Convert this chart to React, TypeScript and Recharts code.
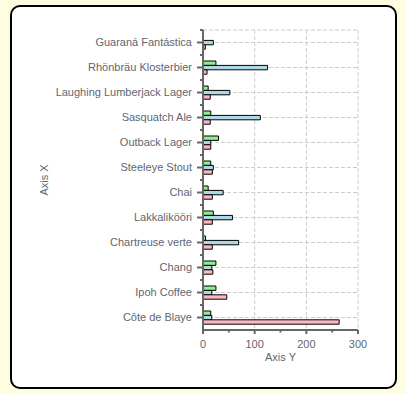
import React from "react";
import {
  BarChart,
  Bar,
  XAxis,
  YAxis,
  CartesianGrid,
  Label,
} from "recharts";

const PRODUCTS = [
  "Guaraná Fantástica",
  "Rhönbräu Klosterbier",
  "Laughing Lumberjack Lager",
  "Sasquatch Ale",
  "Outback Lager",
  "Steeleye Stout",
  "Chai",
  "Lakkalikööri",
  "Chartreuse verte",
  "Chang",
  "Ipoh Coffee",
  "Côte de Blaye",
];
const REORDER_LEVEL = [0, 25, 10, 15, 30, 15, 10, 20, 5, 25, 25, 15];
const UNITS_IN_STOCK = [20, 125, 52, 111, 15, 20, 39, 57, 69, 17, 17, 17];
const UNIT_PRICE = [4.5, 7.75, 14, 14, 15, 18, 18, 18, 18, 19, 46, 263.5];

const X_MAX = 300;
const X_TICKS = [0, 50, 100, 150, 200, 250, 300];
const X_MAJOR = [0, 100, 200, 300];

const data = PRODUCTS.map((name, i) => ({
  name,
  reorder: REORDER_LEVEL[i],
  stock: UNITS_IN_STOCK[i],
  price: UNIT_PRICE[i],
}));

const TEXT = "#5f6670";
const AXIS = "#666666";
const FONT = "'Liberation Sans', Arial, sans-serif";

function CategoryTick({ x, y, payload }: any) {
  return (
    <g>
      <line x1={x - 6} x2={x} y1={y} y2={y} stroke={AXIS} strokeWidth={2} />
      <line x1={x - 3} x2={x} y1={y - 12.5} y2={y - 12.5} stroke={AXIS} strokeWidth={2} />
      <text
        x={x - 11}
        y={y}
        dy="0.36em"
        textAnchor="end"
        fill={TEXT}
        fontSize={11}
        fontFamily={FONT}
      >
        {payload.value}
      </text>
    </g>
  );
}

function ValueTick({ x, y, payload }: any) {
  const major = X_MAJOR.includes(payload.value);
  return (
    <g>
      <line x1={x} x2={x} y1={y} y2={y + (major ? 4 : 2.5)} stroke={AXIS} strokeWidth={2} />
      {major && (
        <text
          x={x}
          y={y + 18}
          textAnchor="middle"
          fill={TEXT}
          fontSize={11}
          fontFamily={FONT}
        >
          {payload.value}
        </text>
      )}
    </g>
  );
}

export default function App() {
  return (
    <div
      style={{
        position: "absolute",
        left: 0,
        top: 0,
        width: 406,
        height: 394,
        background: "#fffde0",
      }}
    >
      <div
        style={{
          position: "absolute",
          left: 10,
          top: 5,
          width: 383,
          height: 380,
          background: "#ffffff",
          border: "2px solid #000",
          borderRadius: 10,
        }}
      />
      <div style={{ position: "absolute", left: 0, top: 0 }}>
        <BarChart
          width={406}
          height={394}
          data={data}
          layout="vertical"
          margin={{ top: 30, right: 48, bottom: 34, left: 0 }}
          barSize={4.4}
          barGap={0}
        >
          <CartesianGrid
            stroke="#cccccc"
            strokeDasharray="4 2"
            verticalCoordinatesGenerator={({ offset }: any) =>
              X_MAJOR.map((v) => offset.left + (v / X_MAX) * offset.width)
            }
          />
          <XAxis
            type="number"
            domain={[0, X_MAX]}
            ticks={X_TICKS}
            interval={0}
            height={30}
            tickLine={false}
            tickSize={0}
            tickMargin={0}
            axisLine={{ stroke: AXIS, strokeWidth: 2 }}
            tick={<ValueTick />}
          >
            <Label
              content={({ viewBox }: any) => (
                <text
                  x={viewBox.x + viewBox.width / 2}
                  y={viewBox.y + 31}
                  textAnchor="middle"
                  fill={TEXT}
                  fontSize={11}
                  fontFamily={FONT}
                >
                  Axis Y
                </text>
              )}
            />
          </XAxis>
          <YAxis
            type="category"
            dataKey="name"
            width={203}
            interval={0}
            tickLine={false}
            tickSize={0}
            tickMargin={0}
            axisLine={{ stroke: AXIS, strokeWidth: 2 }}
            tick={<CategoryTick />}
          >
            <Label
              content={({ viewBox }: any) => {
                const cx = viewBox.x + 48;
                const cy = viewBox.y + viewBox.height / 2;
                return (
                  <text
                    x={cx}
                    y={cy}
                    textAnchor="middle"
                    fill={TEXT}
                    fontSize={11}
                    fontFamily={FONT}
                    transform={`rotate(-90 ${cx} ${cy})`}
                  >
                    Axis X
                  </text>
                );
              }}
            />
          </YAxis>
          <Bar dataKey="reorder" fill="#90ee90" stroke="#000" strokeWidth={1} isAnimationActive={false} />
          <Bar dataKey="stock" fill="#add8e6" stroke="#000" strokeWidth={1} isAnimationActive={false} />
          <Bar dataKey="price" fill="#ffb6c1" stroke="#000" strokeWidth={1} isAnimationActive={false} />
        </BarChart>
      </div>
    </div>
  );
}
